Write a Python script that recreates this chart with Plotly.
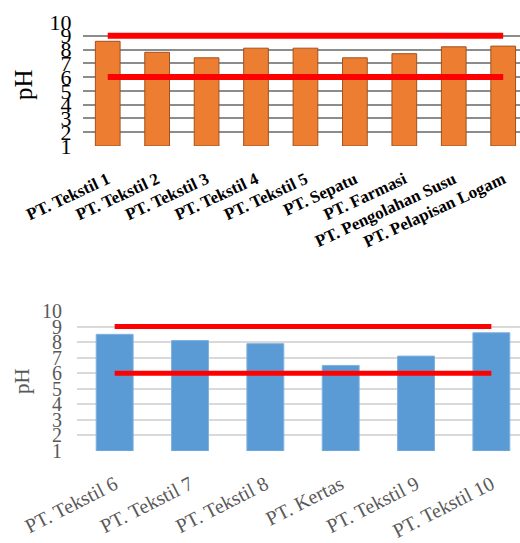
import plotly.graph_objects as go

# ---- data ----
top_categories = ["PT. Tekstil 1", "PT. Tekstil 2", "PT. Tekstil 3", "PT. Tekstil 4",
                  "PT. Tekstil 5", "PT. Sepatu", "PT. Farmasi", "PT. Pengolahan Susu",
                  "PT. Pelapisan Logam"]
top_ph = [8.6, 7.8, 7.4, 8.1, 8.1, 7.4, 7.7, 8.2, 8.25]

bottom_categories = ["PT. Tekstil 6", "PT. Tekstil 7", "PT. Tekstil 8", "PT. Kertas",
                     "PT. Tekstil 9", "PT. Tekstil 10"]
bottom_ph = [8.5, 8.1, 7.9, 6.5, 7.1, 8.6]

lower_limit = 6
upper_limit = 9
y_ticks = [1, 2, 3, 4, 5, 6, 7, 8, 9, 10]

W, H = 520, 543
FONT = "Liberation Serif, Times New Roman, serif"

fig = go.Figure()

# top chart
fig.add_trace(go.Bar(x=top_categories, y=[v - 1 for v in top_ph], base=1,
                     marker=dict(color="#ED7D31", line=dict(color="#A0521E", width=1)),
                     width=0.5, xaxis="x", yaxis="y", showlegend=False))
for lim in (upper_limit, lower_limit):
    fig.add_trace(go.Scatter(x=top_categories, y=[lim] * len(top_categories), mode="lines",
                             line=dict(color="#FF0000", width=6), xaxis="x", yaxis="y",
                             showlegend=False))

# bottom chart
fig.add_trace(go.Bar(x=bottom_categories, y=[v - 1 for v in bottom_ph], base=1,
                     marker=dict(color="#5B9BD5", line=dict(color="#7FB2E0", width=1)),
                     width=0.49, xaxis="x2", yaxis="y2", showlegend=False))
for lim in (upper_limit, lower_limit):
    fig.add_trace(go.Scatter(x=bottom_categories, y=[lim] * len(bottom_categories), mode="lines",
                             line=dict(color="#FF0000", width=5), xaxis="x2", yaxis="y2",
                             showlegend=False))

fig.update_layout(
    width=W, height=H,
    margin=dict(l=0, r=0, t=0, b=0, pad=0, autoexpand=False),
    paper_bgcolor="white", plot_bgcolor="white",
    font=dict(family=FONT, color="black"),
    xaxis=dict(domain=[83 / W, 1], range=[-0.5, 8.34], type="category", automargin=False,
               tickangle=-25, tickfont=dict(size=17, family=FONT, color="black", weight="bold"),
               ticks="outside", ticklen=16, tickcolor="rgba(0,0,0,0)",
               showgrid=False, showline=False, anchor="y"),
    yaxis=dict(domain=[1 - 146 / H, 1 - 22 / H], range=[1, 10], tickvals=y_ticks, automargin=False,
               tickfont=dict(size=22, family=FONT, color="black"),
               ticks="outside", ticklen=6, tickcolor="rgba(0,0,0,0)",
               showgrid=True, gridcolor="#8c8c8c", gridwidth=2,
               zeroline=False, showline=False, anchor="x"),
    xaxis2=dict(domain=[77 / W, 1], range=[-0.5, 5.38], type="category", automargin=False,
                tickangle=-27, tickfont=dict(size=20, family=FONT, color="#595959"),
                ticks="outside", ticklen=13, tickcolor="rgba(0,0,0,0)",
                showgrid=False, showline=False, anchor="y2"),
    yaxis2=dict(domain=[1 - 451 / H, 1 - 311 / H], range=[1, 10], tickvals=y_ticks, automargin=False,
                tickfont=dict(size=20, family=FONT, color="#595959"),
                ticks="outside", ticklen=10, tickcolor="rgba(0,0,0,0)",
                showgrid=True, gridcolor="#d9d9d9", gridwidth=1.5,
                zeroline=False, showline=False, anchor="x2"),
    annotations=[
        dict(text="pH", x=24 / W, y=1 - 85 / H, xref="paper", yref="paper",
             xanchor="center", yanchor="middle",
             textangle=-90, showarrow=False, font=dict(size=25, family=FONT, color="black")),
        dict(text="pH", x=22 / W, y=1 - 381 / H, xref="paper", yref="paper",
             xanchor="center", yanchor="middle",
             textangle=-90, showarrow=False, font=dict(size=21, family=FONT, color="#595959")),
    ],
)

fig.write_html("out.html", config={"responsive": False, "displayModeBar": False},
               post_script="document.body.style.margin='0px';document.body.style.overflow='hidden';")
